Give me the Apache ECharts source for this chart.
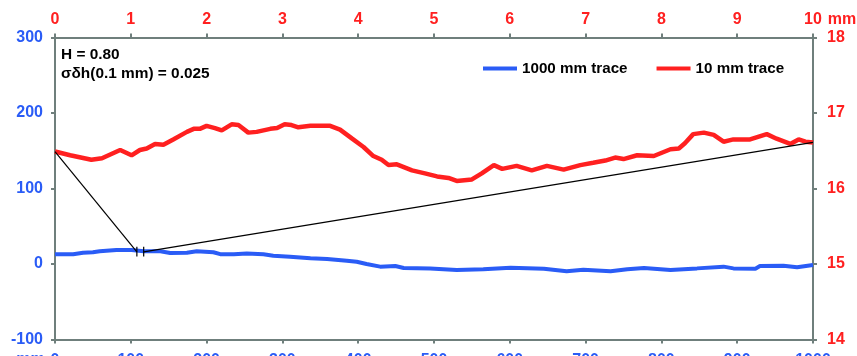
<!DOCTYPE html>
<html>
<head>
<meta charset="utf-8">
<script src="https://cdn.jsdelivr.net/npm/echarts@6/dist/echarts.min.js"></script>
<style>
  html, body { margin: 0; padding: 0; background: #fff; }
  #chart { width: 857px; height: 356px; }
</style>
</head>
<body>
<div id="chart"></div>
<script>
// 1000 mm trace: position (mm, bottom axis) and height (left axis)
const longX = [0,24,37,50,59,81,101,117,139,152,174,187,209,218,236,253,275,288,310,337,359,385,398,411,429,449,460,495,530,565,601,645,675,697,733,755,777,812,847,882,895,924,930,961,979,1000];
const longY = [12.8,13,15,15.5,16.8,18.5,18.5,17,16.8,14.6,15,16.8,15.5,13,13,14,12.8,11,9.7,7.5,6.6,4.4,3,0,-3.5,-2.7,-5.3,-6,-8,-7,-4.9,-6.2,-9.7,-7.5,-9.7,-7,-5.3,-8,-5.8,-3.5,-5.8,-6.2,-2.7,-2.2,-4.4,-1.3];

// 10 mm trace: position (mm, top axis) and height (right axis)
const shortX = [0,0.2,0.48,0.62,0.86,1.01,1.12,1.21,1.32,1.43,1.56,1.74,1.83,1.91,2.00,2.11,2.20,2.33,2.42,2.55,2.66,2.84,2.93,3.03,3.12,3.21,3.37,3.63,3.76,3.92,4.07,4.20,4.31,4.40,4.51,4.71,4.88,5.04,5.19,5.30,5.50,5.63,5.79,5.90,6.09,6.29,6.49,6.71,6.93,7.10,7.26,7.39,7.50,7.68,7.90,8.12,8.23,8.31,8.42,8.56,8.69,8.82,8.95,9.17,9.39,9.52,9.70,9.81,9.90,10];
const shortY = [16.49,16.44,16.38,16.40,16.51,16.44,16.51,16.53,16.59,16.58,16.65,16.75,16.79,16.79,16.83,16.80,16.77,16.85,16.84,16.74,16.75,16.79,16.80,16.85,16.84,16.81,16.83,16.83,16.78,16.66,16.55,16.43,16.38,16.31,16.32,16.24,16.20,16.16,16.14,16.10,16.12,16.20,16.31,16.26,16.30,16.24,16.30,16.25,16.31,16.34,16.37,16.41,16.39,16.44,16.43,16.52,16.53,16.60,16.72,16.74,16.71,16.62,16.65,16.65,16.72,16.66,16.59,16.65,16.62,16.61];

// Where the 10 mm piece sits inside the long trace
const pieceStart = 108;
const pieceEnd = 117;
const pieceLevel = 16;
const pieceTickLow = 10;
const pieceTickHigh = 23;

const seriesNames = ['1000 mm trace', '10 mm trace'];
const annotation = ['H = 0.80', 'σδh(0.1 mm) = 0.025'];

// Axis ranges
const bottomRange = [0, 1000, 100];
const topRange = [0, 10, 1];
const leftRange = [-100, 300, 100];
const rightRange = [14, 18, 1];

const BLUE = '#2a5cf6';
const RED = '#ff2020';
const AXIS = '#6f7f7c';
const FONT = '"Liberation Sans", Arial, sans-serif';

// right-axis value expressed in left-axis units (both span the same height)
const rightToLeft = v => leftRange[0] + (v - rightRange[0]) * (leftRange[1] - leftRange[0]) / (rightRange[1] - rightRange[0]);

const zip = (xs, ys) => xs.map((x, i) => [x, ys[i]]);

const axisLineStyle = { show: true, onZero: false, lineStyle: { color: AXIS, width: 2 } };
const axisTickStyle = { show: true, inside: false, length: 4, lineStyle: { color: AXIS, width: 2 } };
const plain = v => String(v);

const guide = (data) => ({
  type: 'line', xAxisIndex: 0, yAxisIndex: 0, data,
  showSymbol: false, silent: true, z: 5,
  lineStyle: { color: '#000', width: 1.2 }
});

const chart = echarts.init(document.getElementById('chart'), null, { renderer: 'canvas' });
chart.setOption({
  animation: false,
  backgroundColor: '#fff',
  textStyle: { fontFamily: FONT },
  grid: { left: 55, right: 44, top: 37.5, bottom: 16.5, containLabel: false, outerBoundsMode: 'none' },
  title: {
    text: annotation.join('\n'),
    left: 56, top: 40,
    textStyle: { fontFamily: FONT, fontSize: 15.4, fontWeight: 'bold', color: '#000', lineHeight: 19 }
  },
  legend: {
    data: seriesNames,
    left: 478, top: 56,
    itemWidth: 34, itemHeight: 4, itemGap: 29,
    icon: 'rect',
    textStyle: { fontFamily: FONT, fontSize: 15.2, fontWeight: 'bold', color: '#000' }
  },
  xAxis: [
    {
      type: 'value', position: 'bottom',
      min: bottomRange[0], max: bottomRange[1], interval: bottomRange[2],
      axisLine: axisLineStyle, axisTick: axisTickStyle, splitLine: { show: false },
      axisLabel: { color: BLUE, fontSize: 16, fontWeight: 'bold', fontFamily: FONT, margin: 13, formatter: plain },
      name: 'mm', nameLocation: 'start', nameGap: 10,
      nameTextStyle: { color: BLUE, fontSize: 16, fontWeight: 'bold', fontFamily: FONT, verticalAlign: 'top', align: 'right', padding: [12, 0, 0, 0] }
    },
    {
      type: 'value', position: 'top',
      min: topRange[0], max: topRange[1], interval: topRange[2],
      axisLine: axisLineStyle, axisTick: axisTickStyle, splitLine: { show: false },
      axisLabel: { color: RED, fontSize: 16, fontWeight: 'bold', fontFamily: FONT, margin: 10, formatter: plain },
      name: 'mm', nameLocation: 'end', nameGap: 14,
      nameTextStyle: { color: RED, fontSize: 16, fontWeight: 'bold', fontFamily: FONT, verticalAlign: 'bottom', align: 'left', padding: [0, 0, 10, 0] }
    }
  ],
  yAxis: [
    {
      type: 'value', position: 'left',
      min: leftRange[0], max: leftRange[1], interval: leftRange[2],
      axisLine: axisLineStyle, axisTick: axisTickStyle, splitLine: { show: false },
      axisLabel: { color: BLUE, fontSize: 16, fontWeight: 'bold', fontFamily: FONT, margin: 12, formatter: plain }
    },
    {
      type: 'value', position: 'right',
      min: rightRange[0], max: rightRange[1], interval: rightRange[2],
      axisLine: axisLineStyle, axisTick: axisTickStyle, splitLine: { show: false },
      axisLabel: { color: RED, fontSize: 16, fontWeight: 'bold', fontFamily: FONT, margin: 14, formatter: plain }
    }
  ],
  series: [
    {
      name: seriesNames[0], type: 'line', xAxisIndex: 0, yAxisIndex: 0,
      data: zip(longX, longY), showSymbol: false, z: 3,
      itemStyle: { color: BLUE },
      lineStyle: { color: BLUE, width: 4 }
    },
    {
      name: seriesNames[1], type: 'line', xAxisIndex: 1, yAxisIndex: 1,
      data: zip(shortX, shortY), showSymbol: false, z: 3,
      itemStyle: { color: RED },
      lineStyle: { color: RED, width: 4.5 }
    },
    // guide lines tying the 10 mm trace to its place in the long trace
    guide([[bottomRange[0], rightToLeft(shortY[0])], [pieceStart, pieceLevel]]),
    guide([[pieceEnd, pieceLevel], [bottomRange[1], rightToLeft(shortY[shortY.length - 1])]]),
    guide([[pieceStart, pieceTickLow], [pieceStart, pieceTickHigh]]),
    guide([[pieceEnd, pieceTickLow], [pieceEnd, pieceTickHigh]])
  ]
});
</script>
</body>
</html>
